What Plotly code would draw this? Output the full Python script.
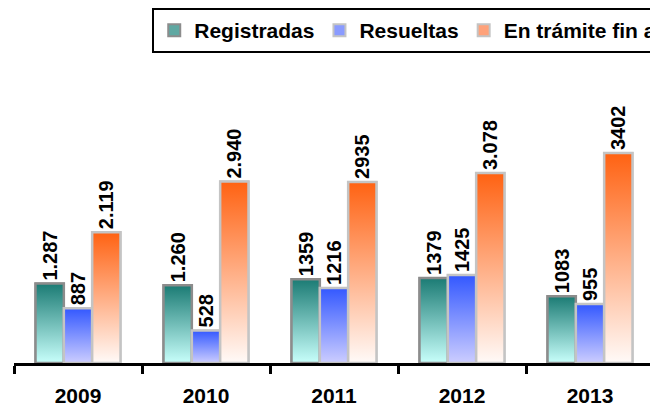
import plotly.graph_objects as go

years = ["2009", "2010", "2011", "2012", "2013"]
registradas = [1287, 1260, 1359, 1379, 1083]
resueltas = [887, 528, 1216, 1425, 955]
tramite = [2119, 2940, 2935, 3078, 3402]
registradas_lbl = ["1.287", "1.260", "1359", "1379", "1083"]
resueltas_lbl = ["887", "528", "1216", "1425", "955"]
tramite_lbl = ["2.119", "2.940", "2935", "3.078", "3402"]
series_names = ["Registradas", "Resueltas", "En trámite fin año"]

FONT = "Liberation Sans, Arial, sans-serif"
W = 0.2214
styles = [
    # top colour, bottom colour, border, legend swatch
    ("#1b7b74", "#c8fffb", "#8c8c8c", "#5fa8a2"),
    ("#3358ff", "#cccdff", "#c4c4c4", "#8a9bff"),
    ("#ff6212", "#fffaf8", "#c4c4c4", "#ffa27a"),
]
data = [
    (series_names[0], registradas, registradas_lbl),
    (series_names[1], resueltas, resueltas_lbl),
    (series_names[2], tramite, tramite_lbl),
]

xs = list(range(len(years)))
fig = go.Figure()

for k, ((name, vals, lbls), (top, bot, border, mid)) in enumerate(zip(data, styles)):
    off = (k - 1.5) * W
    fig.add_trace(go.Bar(
        x=xs, y=vals, name=name, width=W, offset=off,
        marker=dict(color=mid, line=dict(color=border, width=2)),
        text=lbls, textposition="outside", textangle=-90, constraintext="none",
        textfont=dict(family=FONT, size=20, color="black", weight="bold"),
        cliponaxis=False, hoverinfo="skip",
    ))

for k, ((name, vals, lbls), (top, bot, border, mid)) in enumerate(zip(data, styles)):
    off = (k - 1.5) * W
    for i, v in zip(xs, vals):
        xl = i + off
        xr = xl + W
        fig.add_trace(go.Scatter(
            x=[xl, xr, xr, xl, xl], y=[0, 0, v, v, 0],
            mode="lines", fill="toself",
            fillgradient=dict(type="vertical", colorscale=[[0, bot], [1, top]]),
            line=dict(color=border, width=2.5),
            showlegend=False, hoverinfo="skip",
        ))

fig.update_layout(
    width=658, height=410,
    margin=dict(l=6, r=12, t=72, b=55, autoexpand=False),
    paper_bgcolor="white", plot_bgcolor="white",
    barmode="overlay",
    showlegend=True,
    legend=dict(
        orientation="h", x=0.216, xanchor="left", y=1.254, yanchor="top",
        bordercolor="black", borderwidth=2,
        font=dict(family=FONT, size=21, color="black", weight="bold"),
        traceorder="normal",
    ),
    xaxis=dict(
        range=[-0.5, 4.5], tickvals=xs, ticktext=years, ticks="",
        showline=False, showgrid=False, zeroline=False,
        tickfont=dict(family=FONT, size=21, color="black", weight="bold"),
        ticklabelstandoff=18,
    ),
    xaxis2=dict(
        range=[-0.5, 4.5], overlaying="x", anchor="y", side="bottom",
        tickvals=[i - 0.5 for i in range(len(years) + 1)],
        showticklabels=False, ticks="outside", ticklen=8, tickwidth=2.5,
        tickcolor="black", showline=True, linecolor="black", linewidth=2.5,
        showgrid=False, zeroline=False,
    ),
    yaxis=dict(range=[0, 4586], visible=False),
)
# empty trace so the second x axis (tick marks and baseline) is drawn
fig.add_trace(go.Scatter(x=[None], y=[None], xaxis="x2", showlegend=False, hoverinfo="skip"))

fig.write_html("out.html")
